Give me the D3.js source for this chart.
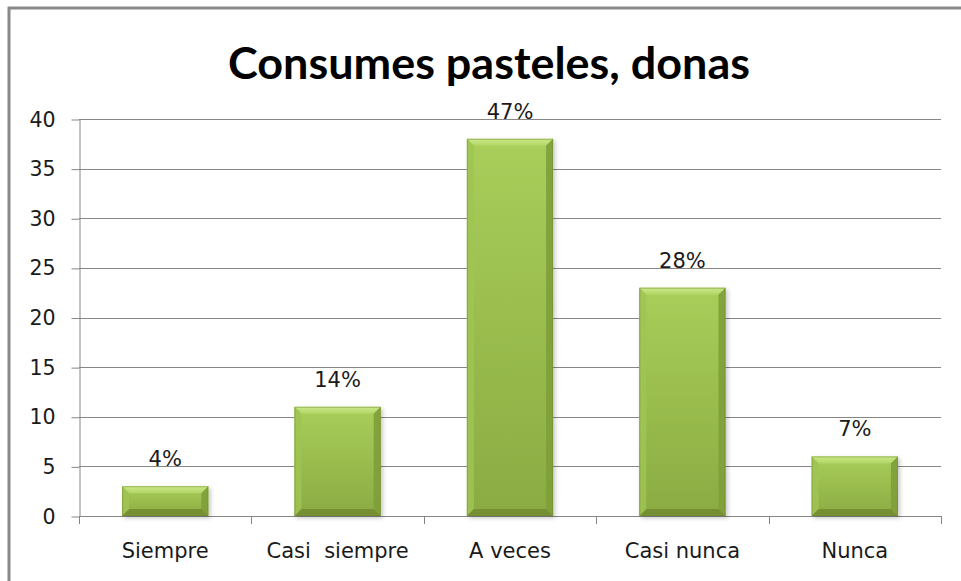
<!DOCTYPE html>
<html>
<head>
<meta charset="utf-8">
<script src="https://cdn.jsdelivr.net/npm/d3@7"></script>
<style>
  html, body { margin: 0; padding: 0; background: #fff; }
  svg { display: block; }
</style>
</head>
<body>
<svg id="chart" width="961" height="581"></svg>
<script>
// Survey answers: "Consumes pasteles, donas"
const categories = ["Siempre", "Casi  siempre", "A veces", "Casi nunca", "Nunca"];
const counts = [3, 11, 38, 23, 6];
const percentLabels = ["4%", "14%", "47%", "28%", "7%"];
const yTicks = [0, 5, 10, 15, 20, 25, 30, 35, 40];
const titleText = "Consumes pasteles, donas";

const svg = d3.select("#chart");
const W = 961, H = 581;
const plot = { left: 79, right: 941, top: 119, bottom: 516 };

// Chart area frame
svg.append("rect")
  .attr("x", 9).attr("y", 8)
  .attr("width", W + 10).attr("height", H + 10)
  .attr("fill", "#fff")
  .attr("stroke", "#888").attr("stroke-width", 3);

const defs = svg.append("defs");
const grad = defs.append("linearGradient").attr("id", "face")
  .attr("x1", 0).attr("y1", 0).attr("x2", 0).attr("y2", 1);
grad.append("stop").attr("offset", "0%").attr("stop-color", "#a9ce5a");
grad.append("stop").attr("offset", "100%").attr("stop-color", "#8aab42");

const topGrad = defs.append("linearGradient").attr("id", "topBevel")
  .attr("x1", 0).attr("y1", 0).attr("x2", 0).attr("y2", 1);
topGrad.append("stop").attr("offset", "0%").attr("stop-color", "#cbe88a");
topGrad.append("stop").attr("offset", "100%").attr("stop-color", "#b2d565");

const shadow = defs.append("filter").attr("id", "shadow")
  .attr("x", "-20%").attr("y", "-20%").attr("width", "140%").attr("height", "140%");
shadow.append("feDropShadow")
  .attr("dx", 2).attr("dy", 2).attr("stdDeviation", 2)
  .attr("flood-color", "#000").attr("flood-opacity", 0.22);

const x = d3.scaleBand()
  .domain(categories)
  .range([plot.left, plot.right])
  .paddingInner(0.5)
  .paddingOuter(0.25);

const y = d3.scaleLinear()
  .domain([0, 40])
  .range([plot.bottom, plot.top]);

// Horizontal gridlines
svg.append("g")
  .selectAll("line")
  .data(yTicks.filter(d => d > 0))
  .join("line")
  .attr("x1", plot.left).attr("x2", plot.right)
  .attr("y1", d => Math.round(y(d)) + 0.5)
  .attr("y2", d => Math.round(y(d)) + 0.5)
  .attr("stroke", "#868686").attr("stroke-width", 1);

// Y axis
const yAxis = svg.append("g")
  .attr("transform", `translate(${plot.left + 0.5},0.5)`)
  .call(d3.axisLeft(y).tickValues(yTicks).tickSize(8).tickPadding(16).tickSizeOuter(0));
yAxis.select(".domain").attr("stroke", "#868686");
yAxis.selectAll(".tick line").attr("stroke", "#868686");
yAxis.selectAll(".tick text")
  .attr("font-family", "'DejaVu Sans', sans-serif")
  .attr("font-size", 20.5)
  .attr("fill", "#1a1a1a");

// X axis line with boundary ticks between categories
const step = x.step();
const boundaries = d3.range(categories.length + 1).map(i => plot.left + i * step);
const xg = svg.append("g");
xg.append("line")
  .attr("x1", plot.left).attr("x2", plot.right)
  .attr("y1", plot.bottom + 0.5).attr("y2", plot.bottom + 0.5)
  .attr("stroke", "#868686");
xg.selectAll("line.bt")
  .data(boundaries)
  .join("line").attr("class", "bt")
  .attr("x1", d => Math.round(d) + 0.5).attr("x2", d => Math.round(d) + 0.5)
  .attr("y1", plot.bottom).attr("y2", plot.bottom + 8)
  .attr("stroke", "#868686");
xg.selectAll("text")
  .data(categories)
  .join("text")
  .attr("x", d => x(d) + x.bandwidth() / 2)
  .attr("y", 558)
  .attr("text-anchor", "middle")
  .attr("font-family", "'DejaVu Sans', sans-serif")
  .attr("font-size", 21)
  .attr("fill", "#1a1a1a")
  .style("white-space", "pre")
  .attr("xml:space", "preserve")
  .text(d => d);

// Bevelled bars
const bev = 7;
const bars = svg.append("g")
  .selectAll("g")
  .data(categories.map((c, i) => ({ c, v: counts[i], label: percentLabels[i] })))
  .join("g")
  .attr("filter", "url(#shadow)");

bars.each(function(d) {
  const g = d3.select(this);
  const x0 = x(d.c), x1 = x0 + x.bandwidth();
  const y0 = y(d.v), y1 = y(0);
  const b = Math.min(bev, (y1 - y0) / 3);
  g.append("rect")
    .attr("x", x0).attr("y", y0)
    .attr("width", x1 - x0).attr("height", y1 - y0)
    .attr("fill", "url(#face)");
  const poly = pts => pts.map(p => p.join(",")).join(" ");
  // top edge highlight
  g.append("polygon")
    .attr("points", poly([[x0, y0], [x1, y0], [x1 - b, y0 + b], [x0 + b, y0 + b]]))
    .attr("fill", "url(#topBevel)");
  // left edge
  g.append("polygon")
    .attr("points", poly([[x0, y0], [x0 + b, y0 + b], [x0 + b, y1 - b], [x0, y1]]))
    .attr("fill", "#9fc453").attr("opacity", 0.85);
  // right edge shade
  g.append("polygon")
    .attr("points", poly([[x1, y0], [x1, y1], [x1 - b, y1 - b], [x1 - b, y0 + b]]))
    .attr("fill", "#7e9e38").attr("opacity", 0.9);
  // bottom edge shade
  g.append("polygon")
    .attr("points", poly([[x0, y1], [x1, y1], [x1 - b, y1 - b], [x0 + b, y1 - b]]))
    .attr("fill", "#768f33");
  g.append("rect")
    .attr("x", x0 + 0.5).attr("y", y0 + 0.5)
    .attr("width", x1 - x0 - 1).attr("height", y1 - y0 - 1)
    .attr("fill", "none").attr("stroke", "#6f8c2e").attr("stroke-opacity", 0.5);
});

// Percentage labels above bars
svg.append("g")
  .selectAll("text")
  .data(categories.map((c, i) => ({ c, v: counts[i], label: percentLabels[i] })))
  .join("text")
  .attr("x", d => x(d.c) + x.bandwidth() / 2)
  .attr("y", d => y(d.v) - 20)
  .attr("text-anchor", "middle")
  .attr("font-family", "'DejaVu Sans', sans-serif")
  .attr("font-size", 21)
  .attr("fill", "#1a1a1a")
  .text(d => d.label);

// Title
svg.append("text")
  .attr("x", 489).attr("y", 79)
  .attr("text-anchor", "middle")
  .attr("font-family", "Lato, 'Open Sans', sans-serif")
  .attr("font-weight", "bold")
  .attr("font-size", 43)
  .attr("fill", "#000")
  .attr("textLength", 522)
  .attr("lengthAdjust", "spacingAndGlyphs")
  .text(titleText);
</script>
</body>
</html>
